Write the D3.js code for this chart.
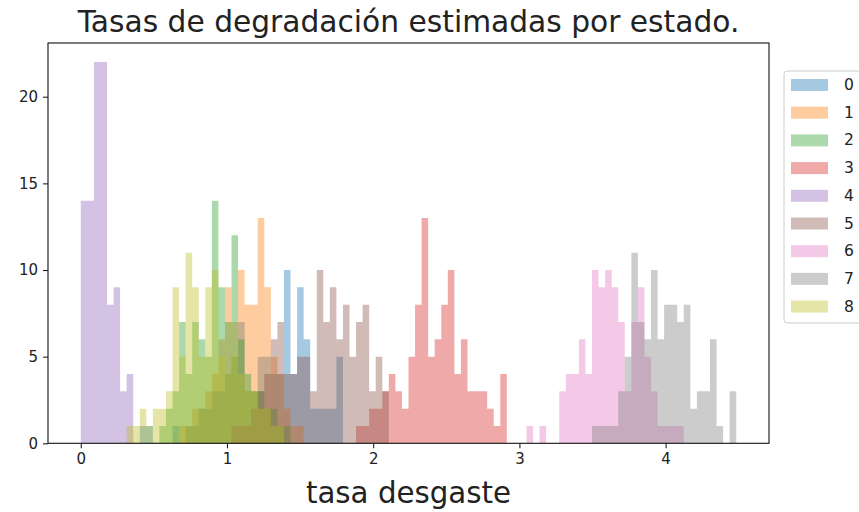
<!DOCTYPE html>
<html><head><meta charset="utf-8">
<script src="https://cdn.jsdelivr.net/npm/d3@7"></script>
<style>body{margin:0;background:#fff;overflow:hidden} text{font-family:"DejaVu Sans",sans-serif}</style>
</head><body><svg id="c" width="859" height="512"></svg>
<script>
// ---- data (histogram counts per shared bin, bins start at 0 with width binWidth) ----
const binWidth = 0.04483;
const nBins = 100;
const seriesNames = ["0","1","2","3","4","5","6","7","8"];
const seriesColors = ["#1f77b4","#ff7f0e","#2ca02c","#d62728","#9467bd","#8c564b","#e377c2","#7f7f7f","#bcbd22"];
const start0 = 9;  const counts0 = [1,1,0,0,0,1,0,1,1,2,2,3,3,4,5,7,3,3,5,5,4,4,10,4,9,6,2,2,2,2,5];
const start1 = 15; const counts1 = [1,1,2,2,3,4,6,9,7,10,8,8,13,9,5,4,2,1,1];
const start2 = 12; const counts2 = [1,2,3,7,4,7,6,5,14,9,7,12,6,4,3,3,2,2,1,1];
const start3 = 42; const counts3 = [1,1,2,2,3,4,3,2,5,8,13,5,6,8,10,4,6,3,3,3,2,1,4];
const start4 = 0;  const counts4 = [14,14,22,22,8,9,3,4];
const start5 = 23; const counts5 = [1,1,1,2,3,4,6,7,4,4,5,5,3,10,7,9,6,8,5,7,8,3,5,3];
const start6 = 68; const counts6 = [1,0,1,0,0,3,4,4,6,4,10,9,10,9,7,3,7,9,5,3,1,1,1,1];
const start7 = 78; const counts7 = [1,1,1,1,3,5,11,7,6,10,6,8,8,7,8,2,3,3,6,1,0,3];
const start8 = 7;  const counts8 = [1,1,2,1,2,2,3,9,5,11,9,5,9,10,5,4,5,4,3,3,2,2,1,1];
const xTicks = [0,1,2,3,4];
const yTicks = [0,5,10,15,20];
const titleText = "Tasas de degradación estimadas por estado.";
const xLabelText = "tasa desgaste";

const starts = [start0,start1,start2,start3,start4,start5,start6,start7,start8];
const countsAll = [counts0,counts1,counts2,counts3,counts4,counts5,counts6,counts7,counts8];

// ---- layout ----
const L = 48, R = 769, T = 43, B = 443.3;
const svg = d3.select("#c");
const dataMax = nBins * binWidth;
const pad = dataMax * 0.05;
const x = d3.scaleLinear().domain([-pad, dataMax + pad]).range([L, R]);
const yMax = d3.max(countsAll, c => d3.max(c));
const y = d3.scaleLinear().domain([0, yMax * 1.05]).range([B, T]);

// each histogram drawn as one step-shaped filled area (bars sharing edges, no seams)
const area = d3.area()
  .x(d => x(d.edge))
  .y0(y(0))
  .y1(d => y(d.c))
  .curve(d3.curveStepAfter);
const bars = svg.append("g");
countsAll.forEach((counts, s) => {
  const pts = counts.map((c, k) => ({edge: (starts[s] + k) * binWidth, c}));
  pts.push({edge: (starts[s] + counts.length) * binWidth, c: 0});
  bars.append("path").datum(pts)
    .attr("d", area)
    .attr("fill", seriesColors[s])
    .attr("fill-opacity", 0.4);
});

// axes
const xAxis = svg.append("g").attr("transform", `translate(0,${B})`)
  .call(d3.axisBottom(x).tickValues(xTicks).tickFormat(d3.format("d")).tickSize(5).tickPadding(5));
const yAxis = svg.append("g").attr("transform", `translate(${L},0)`)
  .call(d3.axisLeft(y).tickValues(yTicks).tickFormat(d3.format("d")).tickSize(5).tickPadding(5));
[xAxis, yAxis].forEach(a => {
  a.select(".domain").remove();
  a.selectAll("text").attr("font-size", 15).attr("fill", "#222").attr("font-family", "DejaVu Sans");
  a.selectAll("line").attr("stroke", "#222").attr("stroke-width", 1.1);
});

svg.append("rect").attr("x", L).attr("y", T).attr("width", R - L).attr("height", B - T)
  .attr("fill", "none").attr("stroke", "#111").attr("stroke-width", 1.1);

// title & label
svg.append("text").attr("x", (L + R) / 2).attr("y", 32).attr("text-anchor", "middle")
  .attr("font-size", 29.7).attr("fill", "#222").text(titleText);
svg.append("text").attr("x", (L + R) / 2).attr("y", 503).attr("text-anchor", "middle")
  .attr("font-size", 29.3).attr("fill", "#222").text(xLabelText);

// legend
const lg = svg.append("g");
lg.append("rect").attr("x", 784).attr("y", 71).attr("width", 100).attr("height", 252)
  .attr("rx", 3).attr("fill", "#fff").attr("fill-opacity", 0.8).attr("stroke", "#ccc");
seriesNames.forEach((n, i) => {
  const cy = 85 + i * 27.7;
  lg.append("rect").attr("x", 791).attr("y", cy - 6).attr("width", 37).attr("height", 12)
    .attr("fill", seriesColors[i]).attr("fill-opacity", 0.4);
  lg.append("text").attr("x", 844).attr("y", cy).attr("dominant-baseline", "central")
    .attr("font-size", 15.5).attr("fill", "#222").text(n);
});
</script></body></html>
